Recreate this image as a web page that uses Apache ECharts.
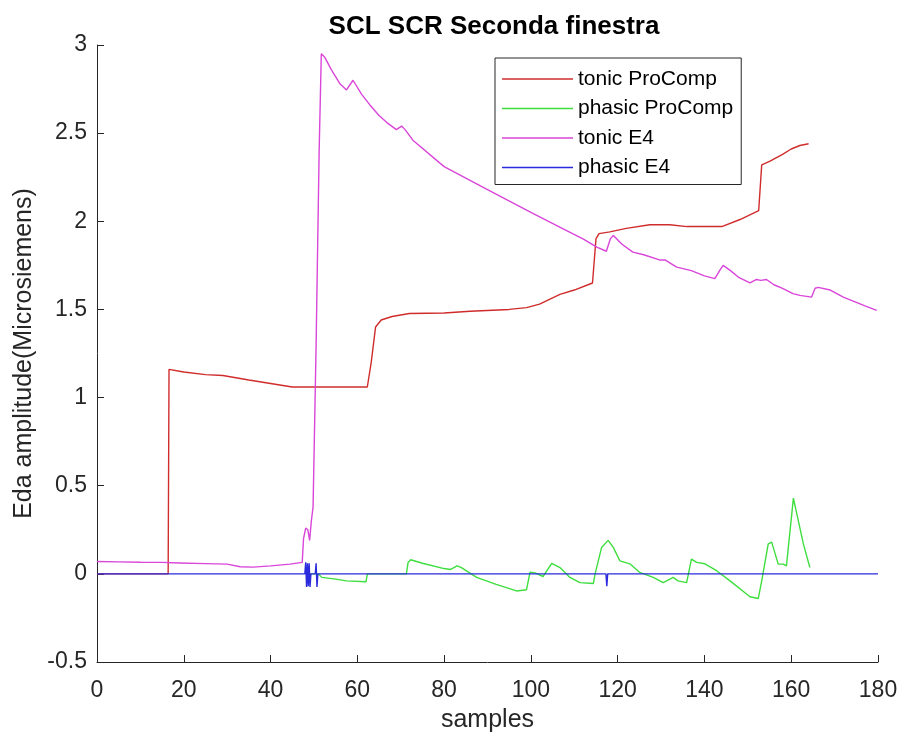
<!DOCTYPE html>
<html>
<head>
<meta charset="utf-8">
<title>SCL SCR Seconda finestra</title>
<script src="https://cdn.jsdelivr.net/npm/echarts@6/dist/echarts.min.js"></script>
<style>
  html, body { margin: 0; padding: 0; background: #ffffff; }
  #chart { width: 902px; height: 742px; }
</style>
</head>
<body>
<div id="chart"></div>
<script>
// Axis ticks
const xTicks = [0, 20, 40, 60, 80, 100, 120, 140, 160, 180];
const yTicks = [-0.5, 0, 0.5, 1, 1.5, 2, 2.5, 3];

// Series names
const seriesNames = ['tonic ProComp', 'phasic ProComp', 'tonic E4', 'phasic E4'];

// [sample, microsiemens]
const tonicProComp = [
  [0, 0], [16.4, 0], [16.6, 1.16], [20, 1.145], [25, 1.13], [29, 1.125], [35, 1.10],
  [40, 1.08], [45, 1.06], [50, 1.06], [62.3, 1.06], [63.2, 1.2], [64.2, 1.40],
  [65.5, 1.44], [68, 1.46], [72, 1.477], [80, 1.48], [86, 1.49], [95, 1.5], [99, 1.51],
  [102, 1.53], [106.7, 1.585], [110, 1.61], [114.2, 1.65], [115.0, 1.9], [115.7, 1.93],
  [118.2, 1.94], [122, 1.96], [127.4, 1.98], [132, 1.98], [136, 1.97], [144, 1.97],
  [148.2, 2.01], [152.5, 2.06], [153.2, 2.32], [155, 2.34], [158, 2.38], [160, 2.41],
  [162, 2.43], [164, 2.44]
];

const phasicProComp = [
  [48, 0], [51, 0], [51.8, -0.02], [55, -0.03], [57.5, -0.04], [62, -0.045], [62.3, 0],
  [71.3, 0], [71.7, 0.065], [72.3, 0.08], [75, 0.06], [80, 0.03], [81.5, 0.025],
  [83, 0.045], [84, 0.035], [87.5, -0.02], [92, -0.06], [96.7, -0.097], [99, -0.09],
  [99.8, 0.01], [101, 0.005], [102.8, -0.015], [104.8, 0.06], [106.7, 0.036],
  [109, -0.02], [111.3, -0.05], [114.4, -0.055], [114.8, 0], [116.3, 0.15],
  [117.8, 0.19], [119, 0.15], [120.5, 0.074], [122.8, 0.057], [125.1, 0.008],
  [128.2, -0.02], [130.5, -0.05], [132.8, -0.02], [133.9, -0.04], [135.9, -0.05],
  [137, 0.084], [138.2, 0.065], [140.1, 0.057], [142.8, 0.018], [145.9, -0.04],
  [150.5, -0.13], [152.4, -0.14], [153.2, -0.04], [154.7, 0.17], [155.5, 0.18],
  [157, 0.055], [158.2, 0.055], [158.9, 0.045], [160.5, 0.43], [160.9, 0.43],
  [162.8, 0.17], [164.3, 0.036]
];

const tonicE4 = [
  [0, 0.07], [5, 0.068], [10, 0.066], [15, 0.065], [19, 0.062], [25, 0.058], [30, 0.055],
  [33, 0.04], [36, 0.038], [40, 0.045], [44.5, 0.055], [47.3, 0.065], [47.6, 0.2],
  [48.1, 0.26], [48.6, 0.25], [49, 0.19], [49.4, 0.3], [49.8, 0.38], [50.5, 1.3],
  [51.2, 2.4], [51.7, 2.95], [52.5, 2.93], [54, 2.86], [56, 2.78], [57.5, 2.745],
  [59, 2.80], [61, 2.72], [62.9, 2.66], [65, 2.6], [66.8, 2.56], [69, 2.52], [70.2, 2.54],
  [71, 2.52], [72.8, 2.46], [80, 2.31], [90, 2.18], [100, 2.05], [108, 1.95], [112, 1.90],
  [115.2, 1.854], [117.4, 1.83], [118.3, 1.9], [119, 1.92], [121, 1.87], [123.5, 1.825],
  [126, 1.81], [129.8, 1.78], [131, 1.78], [133.6, 1.74], [137, 1.72], [140, 1.69],
  [142.4, 1.675], [143.5, 1.72], [144.3, 1.75], [146, 1.72], [148, 1.68], [150.5, 1.65],
  [152, 1.67], [153, 1.665], [154.3, 1.67], [156, 1.64], [158, 1.62], [160.4, 1.59],
  [162, 1.58], [164.7, 1.57], [165.5, 1.62], [166.2, 1.625], [169, 1.61], [172, 1.57],
  [175, 1.54], [177, 1.52], [179.7, 1.495]
];

const phasicE4 = [
  [0, 0], [47.9, 0], [48.1, 0.065], [48.3, -0.075], [48.5, 0.06], [48.7, -0.07],
  [48.9, 0.06], [49.1, -0.075], [49.3, 0], [50.3, 0], [50.5, 0.06], [50.7, -0.075],
  [50.9, 0], [117.3, 0], [117.5, -0.07], [117.7, 0], [180, 0]
];

const seriesData = [tonicProComp, phasicProComp, tonicE4, phasicE4];
const seriesColors = ['#d02c2c', '#3ede3e', '#d946d9', '#2b2bdd'];

const FONT = '"Liberation Sans", Arial, Helvetica, sans-serif';
const INK = '#262626';

const chart = echarts.init(document.getElementById('chart'), null, { renderer: 'canvas' });

chart.setOption({
  animation: false,
  backgroundColor: '#ffffff',
  title: {
    text: 'SCL SCR Seconda finestra',
    left: 489,
    top: 9,
    textAlign: 'center',
    textStyle: { fontFamily: FONT, fontSize: 26, fontWeight: 'bold', color: '#000000' }
  },
  legend: {
    data: seriesNames,
    orient: 'vertical',
    left: 495,
    top: 58,
    padding: [10, 8, 6, 7],
    itemGap: 7.5,
    itemWidth: 71,
    itemHeight: 1.5,
    icon: 'rect',
    borderColor: INK,
    borderWidth: 1,
    borderRadius: 0,
    backgroundColor: '#ffffff',
    textStyle: { fontFamily: FONT, fontSize: 21, lineHeight: 22, color: '#000000' }
  },
  grid: { left: 97, right: 24, top: 45, bottom: 80, containLabel: false },
  xAxis: {
    type: 'value',
    min: xTicks[0],
    max: xTicks[xTicks.length - 1],
    interval: xTicks[1] - xTicks[0],
    name: 'samples',
    nameLocation: 'middle',
    nameGap: 46,
    nameTextStyle: { fontFamily: FONT, fontSize: 25, color: INK },
    axisLine: { onZero: false, lineStyle: { color: INK, width: 1 } },
    axisTick: { inside: true, length: 7, lineStyle: { color: INK } },
    axisLabel: { fontFamily: FONT, fontSize: 23, color: INK, margin: 17 },
    splitLine: { show: false }
  },
  yAxis: {
    type: 'value',
    min: yTicks[0],
    max: yTicks[yTicks.length - 1],
    interval: yTicks[1] - yTicks[0],
    name: 'Eda amplitude(Microsiemens)',
    nameLocation: 'middle',
    nameGap: 54,
    nameTextStyle: { fontFamily: FONT, fontSize: 25, color: INK },
    axisLine: { show: true, onZero: false, lineStyle: { color: INK, width: 1 } },
    axisTick: { show: true, inside: true, length: 7, lineStyle: { color: INK } },
    axisLabel: { fontFamily: FONT, fontSize: 23, color: INK, margin: 10 },
    splitLine: { show: false }
  },
  series: seriesNames.map((name, i) => ({
    name: name,
    type: 'line',
    data: seriesData[i],
    symbol: 'none',
    showSymbol: false,
    color: seriesColors[i],
    lineStyle: { color: seriesColors[i], width: 1.4 },
    z: 2 + i
  }))
});
</script>
</body>
</html>
